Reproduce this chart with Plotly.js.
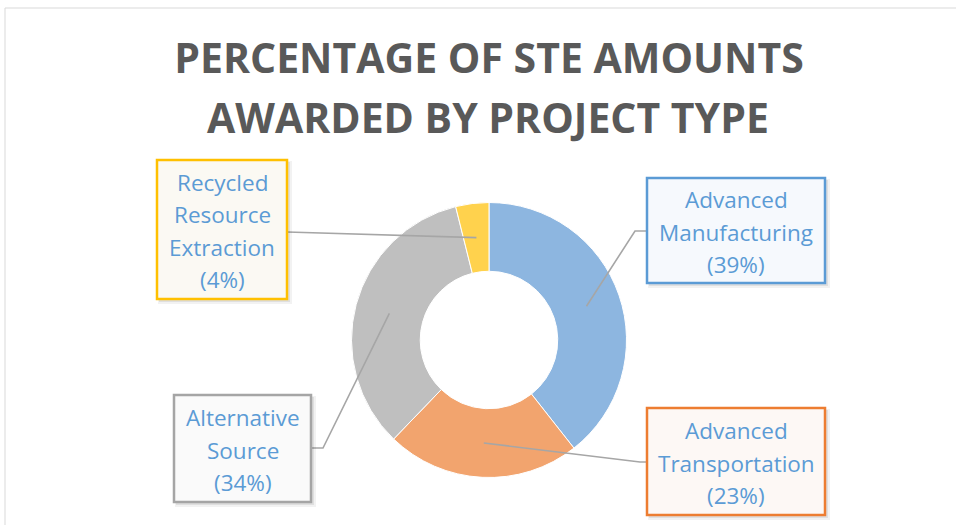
<!DOCTYPE html>
<html>
<head>
<meta charset="utf-8">
<script src="https://cdn.plot.ly/plotly-3.0.1.min.js"></script>
<style>
html,body{margin:0;padding:0;background:#fff;}
#chart{width:956px;height:525px;}
</style>
</head>
<body>
<div id="chart"></div>
<script>
// ---- data ----
const titleLines = ['PERCENTAGE OF STE AMOUNTS', 'AWARDED BY PROJECT TYPE'];
const categories = ['Advanced Manufacturing', 'Advanced Transportation', 'Alternative Source', 'Recycled Resource Extraction'];
const shares = [39.4, 22.8, 33.9, 3.9];
const labelLines = [['Advanced', 'Manufacturing'], ['Advanced', 'Transportation'], ['Alternative', 'Source'], ['Recycled', 'Resource', 'Extraction']];

// ---- styles ----
const sliceColors = ['#8DB6E0', '#F2A46E', '#BFBFBF', '#FFD24D'];
const boxBorders = ['#5B9BD5', '#ED7D31', '#A5A5A5', '#FFC000'];
const boxFills = ['#F6F9FD', '#FDF8F5', '#FAFAFA', '#FBF9F3'];
const W = 956, H = 525;
const px = x => x / W, py = y => 1 - y / H;
const cx = 489, cy = 340, rOut = 137.5, holeFrac = 0.5;
const rMid = rOut * (1 + holeFrac) / 2;
// label boxes [x0,y0,x1,y1] in pixels
const boxes = [[647, 178, 825, 283], [647, 408, 825, 515], [174, 395, 311, 502], [157, 160, 287, 299]];
// leader elbows / ends in pixels
const leaderPts = [[[635, 231], [647, 231]], [[640, 462], [647, 462]], [[323, 448], [311, 448]], [[287, 232]]];
const lineGap = 32.5;
const labelFont = {family: 'Open Sans', size: 22.5, color: '#5B9BD5'};
const titleFont = {family: 'Open Sans', size: 41, color: '#595959', weight: 'bold'};

const total = shares.reduce((a, b) => a + b, 0);
const shapes = [];
const annotations = [];

// outer frame lines
shapes.push({type: 'line', xref: 'paper', yref: 'paper', x0: px(5), y0: py(8), x1: px(956), y1: py(8), line: {color: '#D9D9D9', width: 1}});
shapes.push({type: 'line', xref: 'paper', yref: 'paper', x0: px(5), y0: py(8), x1: px(5), y1: py(525), line: {color: '#D9D9D9', width: 1}});

let cum = 0;
shares.forEach((s, i) => {
  const th = (cum + s / 2) / total * 2 * Math.PI;
  cum += s;
  const ax = cx + rMid * Math.sin(th), ay = cy - rMid * Math.cos(th);
  let d = 'M' + px(ax) + ',' + py(ay);
  leaderPts[i].forEach(p => { d += ' L' + px(p[0]) + ',' + py(p[1]); });
  shapes.push({type: 'path', xref: 'paper', yref: 'paper', path: d, line: {color: '#A6A6A6', width: 1.6}});
  const b = boxes[i];
  // shadow
  shapes.push({type: 'rect', xref: 'paper', yref: 'paper', x0: px(b[0] + 1), y0: py(b[1] + 1), x1: px(b[2] + 5), y1: py(b[3] + 5), fillcolor: 'rgba(0,0,0,0.05)', line: {width: 0}});
  shapes.push({type: 'rect', xref: 'paper', yref: 'paper', x0: px(b[0] + 2), y0: py(b[1] + 2), x1: px(b[2] + 3), y1: py(b[3] + 3), fillcolor: 'rgba(0,0,0,0.08)', line: {width: 0}});
  shapes.push({type: 'rect', xref: 'paper', yref: 'paper', x0: px(b[0]), y0: py(b[1]), x1: px(b[2]), y1: py(b[3]), fillcolor: boxFills[i], line: {color: boxBorders[i], width: 2.5}});
  const lines = labelLines[i].concat(['(' + Math.round(s) + '%)']);
  const midY = (b[1] + b[3]) / 2 + 1.5;
  const midX = (b[0] + b[2]) / 2;
  lines.forEach((t, k) => {
    const yy = midY + (k - (lines.length - 1) / 2) * lineGap;
    annotations.push({xref: 'paper', yref: 'paper', x: px(midX), y: py(yy), xanchor: 'center', yanchor: 'middle', showarrow: false, text: t,
      font: labelFont});
  });
});

annotations.push({xref: 'paper', yref: 'paper', x: px(488), y: py(117), xanchor: 'center', yanchor: 'middle', showarrow: false, text: titleLines[1],
  font: titleFont});

const trace = {
  type: 'pie',
  labels: categories,
  values: shares,
  hole: holeFrac,
  sort: false,
  direction: 'clockwise',
  rotation: 0,
  textinfo: 'none',
  showlegend: false,
  marker: {colors: sliceColors, line: {color: '#FFFFFF', width: 1}},
  domain: {x: [px(cx - rOut), px(cx + rOut)], y: [py(cy + rOut), py(cy - rOut)]}
};

const layout = {
  width: W, height: H,
  margin: {l: 0, r: 0, t: 0, b: 0},
  paper_bgcolor: '#FFFFFF',
  title: {text: titleLines[0], x: px(489), xanchor: 'center', y: py(59), yanchor: 'middle', xref: 'paper', yref: 'paper',
    font: titleFont},
  shapes: shapes,
  annotations: annotations
};

Plotly.newPlot('chart', [trace], layout, {displayModeBar: false, staticPlot: true});
</script>
</body>
</html>
